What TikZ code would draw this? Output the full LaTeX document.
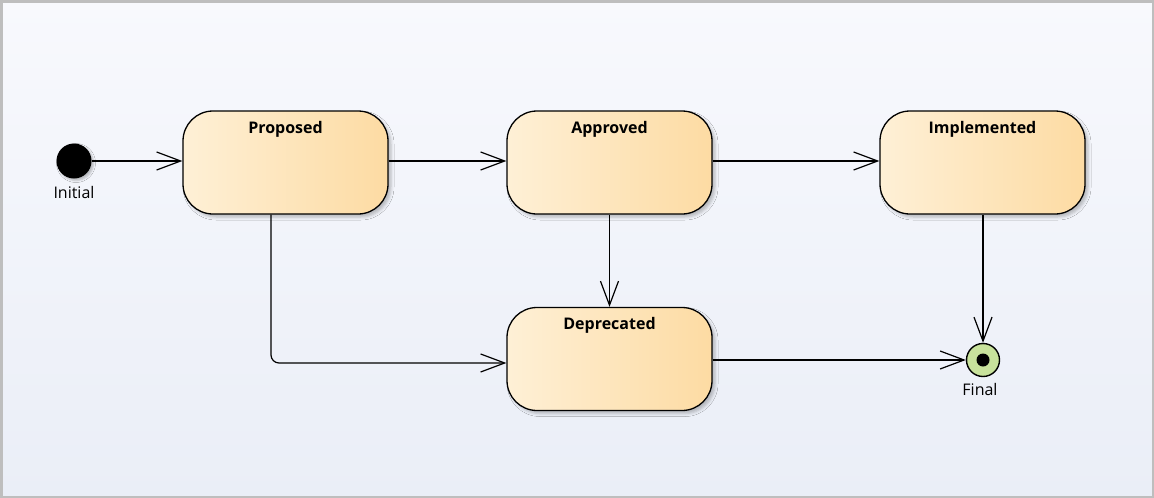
\documentclass[tikz,border=0pt]{standalone}
\usepackage{fontspec}
\setmainfont{Open Sans}
\usetikzlibrary{arrows.meta,shadows.blur}
\definecolor{bgtop}{HTML}{F8F9FD}
\definecolor{bgbot}{HTML}{EAEEF7}
\definecolor{frame}{HTML}{BEBEBE}
\definecolor{boxl}{HTML}{FEF0D6}
\definecolor{boxr}{HTML}{FDDBA3}
\definecolor{finalg}{HTML}{C8E29C}
\tikzset{
  state/.style={draw=black, line width=1.3pt, rounded corners=30pt,
    minimum width=205pt, minimum height=103pt, left color=boxl, right color=boxr,
    blur shadow={shadow xshift=3pt, shadow yshift=-3pt, shadow blur radius=3pt, shadow opacity=25}},
  title/.style={font=\bfseries\fontsize{16}{18}\selectfont},
  lbl/.style={font=\fontsize{16}{18}\selectfont, inner sep=0pt},
  arr/.style={line width=1.2pt, -{Straight Barb[length=24pt,width=18pt,line width=1.2pt]}},
}
\begin{document}
\begin{tikzpicture}[x=1pt,y=-1pt]
\useasboundingbox (0,0) rectangle (1154,498);
\fill[top color=bgtop, bottom color=bgbot] (0,0) rectangle (1154,498);
\draw[frame, line width=2.5pt] (1.25,1.25) rectangle (1152.75,496.75);

\node[circle, fill=black, minimum size=35pt, inner sep=0pt,
  blur shadow={shadow xshift=2pt, shadow yshift=-2pt, shadow blur radius=2pt, shadow opacity=25}] (init) at (74,161) {};
\node[lbl] (initl) at (74,192) {Initial};

\node[state, label={[title, anchor=north, yshift=-7pt]north:Proposed}] (prop) at (285.5,162.5) {};
\node[state, label={[title, anchor=north, yshift=-7pt]north:Approved}] (appr) at (609.5,162.5) {};
\node[state, label={[title, anchor=north, yshift=-7pt]north:Implemented}] (impl) at (982.5,162.5) {};
\node[state, label={[title, anchor=north, yshift=-7pt]north:Deprecated}] (depr) at (609.5,359) {};

\node[circle, draw=black, line width=1.4pt, fill=finalg, minimum size=33pt, inner sep=0pt] (fin) at (983,360) {};
\node[circle, fill=black, minimum size=13pt, inner sep=0pt] (fininner) at (fin.center) {};
\node[lbl] (finl) at (980,389) {Final};

\draw[arr] (init.east) -- (prop.west |- init.east);
\draw[arr] (prop.east |- init.east) -- (appr.west |- init.east);
\draw[arr] (appr.east |- init.east) -- (impl.west |- init.east);
\draw[arr] (appr.south) -- (depr.north);
\draw[arr] (impl.south -| fin.north) -- (fin.north);
\draw[arr] (depr.east |- fin.west) -- (fin.west);
\coordinate (pb) at ([xshift=-14.5pt]prop.south);
\coordinate (dw) at ([yshift=-4pt]depr.west);
\draw[arr, rounded corners=8pt] (pb) |- (dw);
\end{tikzpicture}
\end{document}
